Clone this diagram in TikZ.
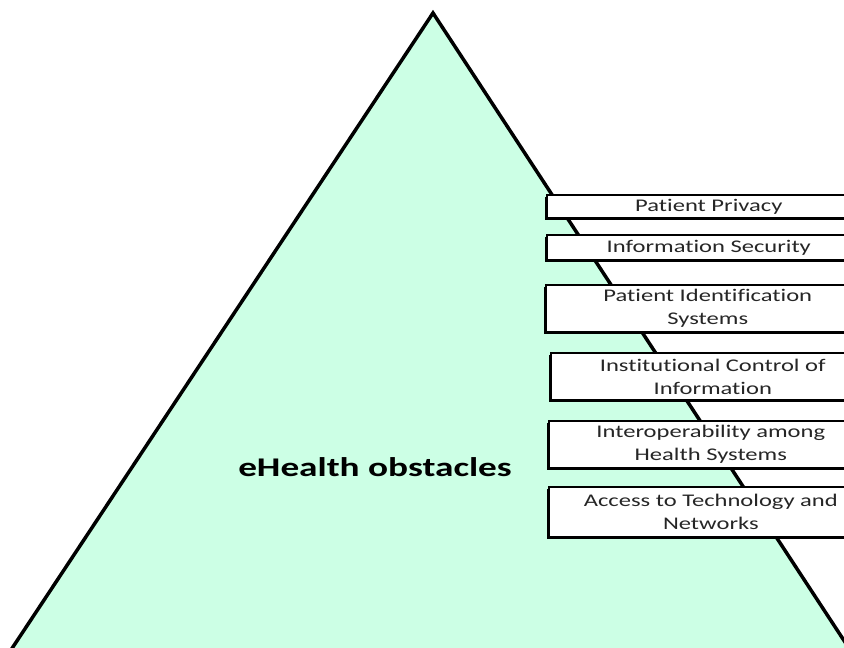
\documentclass[tikz,border=0pt]{standalone}
\usepackage{fontspec}
\setmainfont[FakeStretch=1.38, Ligatures=NoCommon]{Carlito}
\definecolor{mint}{RGB}{204,255,229}
\tikzset{
	obstacle/.style={draw=black, line width=1.6pt, fill=white, anchor=west,
		minimum width=324pt, inner sep=0pt, align=center,
		font=\fontsize{17.8}{23}\selectfont, text=black!85,
		drop shadow={shadow xshift=-2pt, shadow yshift=-2pt, fill=black, opacity=1}},
}
\usetikzlibrary{shadows}
\begin{document}
\begin{tikzpicture}[x=1pt, y=-1pt]
		\useasboundingbox (0,0) rectangle (844,648);
		\clip (0,0) rectangle (844,648);
		\draw [line width=3.5pt, fill=mint, line join=miter] (433,13) -- (1,665) -- (860,665) -- cycle;
		\node (title) at (375,467) {\fontsize{27}{30}\selectfont\bfseries eHealth obstacles};
		
		\node [obstacle, minimum height=23pt] (privacy) at (546,206.5) {Patient Privacy};
		\node [obstacle, minimum height=25pt] (security) at (546,247.5) {Information Security};
		\node [obstacle, minimum height=47pt] (ident) at (545,308.5) {Patient Identification\\Systems};
		\node [obstacle, minimum height=47pt] (control) at (550,376.5) {Institutional Control of\\Information};
		\node [obstacle, minimum height=47pt] (interop) at (548,444.5) {Interoperability among\\Health Systems};
		\node [obstacle, minimum height=50pt] (access) at (548,512) {Access to Technology and\\Networks};
	\end{tikzpicture}
\end{document}
